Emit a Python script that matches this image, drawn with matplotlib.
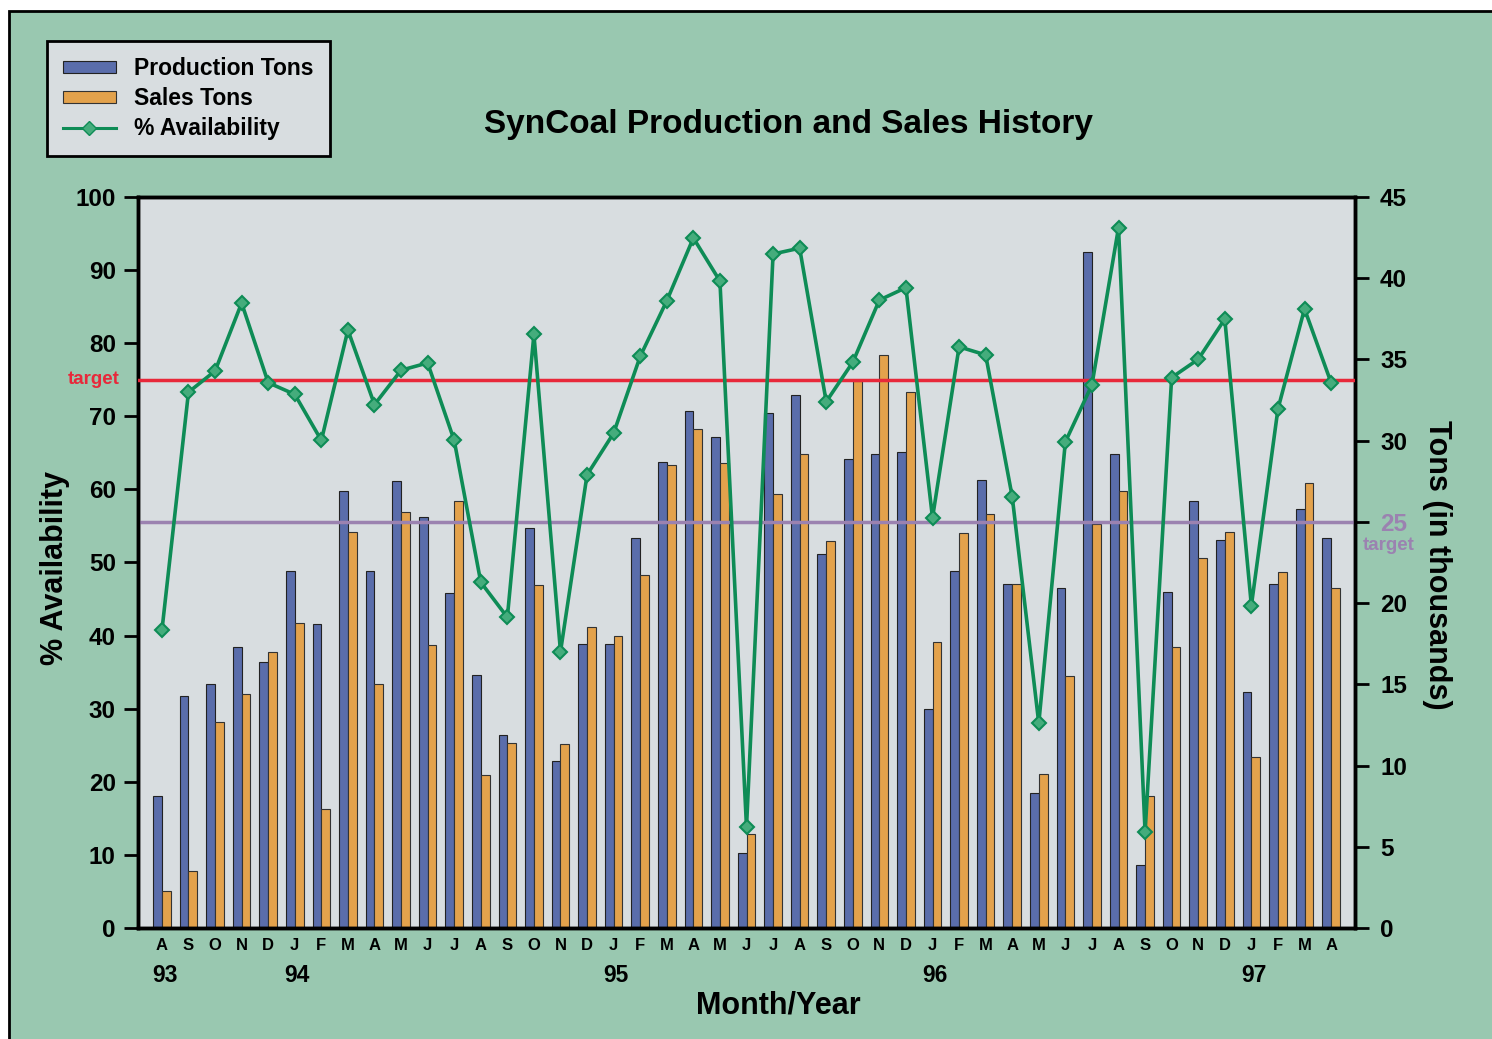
import matplotlib
matplotlib.use("Agg")
import matplotlib.pyplot as plt
from matplotlib.patches import Rectangle, Patch
from matplotlib.lines import Line2D
import matplotlib.transforms as mtransforms
import numpy as np

plt.rcParams['font.family'] = ['Liberation Sans', 'DejaVu Sans']

months = ['A', 'S', 'O', 'N', 'D',
          'J', 'F', 'M', 'A', 'M', 'J', 'J', 'A', 'S', 'O', 'N', 'D',
          'J', 'F', 'M', 'A', 'M', 'J', 'J', 'A', 'S', 'O', 'N', 'D',
          'J', 'F', 'M', 'A', 'M', 'J', 'J', 'A', 'S', 'O', 'N', 'D',
          'J', 'F', 'M', 'A']
years = ['93', '94', '95', '96', '97']
year_pos = [0, 5, 17, 29, 41]

availability = [40.7, 73.3, 76.2, 85.5, 74.6, 73.0, 66.7, 81.8, 71.6, 76.3, 77.3, 66.7, 47.3, 42.5,
                81.2, 37.8, 62.0, 67.7, 78.2, 85.8, 94.4, 88.5, 13.8, 92.2, 93.0, 72.0, 77.4, 85.9,
                87.6, 56.1, 79.5, 78.4,
                59.0, 28.0, 66.5, 74.3, 95.8, 13.1, 75.3, 77.8, 83.3, 44.1, 71.0, 84.7, 74.6]
production = [8.1, 14.3, 15.0, 17.3, 16.4, 22.0, 18.7, 26.9, 22.0, 27.5, 25.3, 20.6, 15.6, 11.9,
              24.6, 10.3, 17.5, 17.5, 24.0, 28.7, 31.8, 30.2, 4.6, 31.7, 32.8, 23.0, 28.9, 29.2,
              29.3, 13.5, 22.0, 27.6,
              21.2, 8.3, 20.9, 41.6, 29.2, 3.9, 20.7, 26.3, 23.9, 14.5, 21.2, 25.8, 24.0]
sales = [2.3, 3.5, 12.7, 14.4, 17.0, 18.8, 7.3, 24.4, 15.0, 25.6, 17.4, 26.3, 9.4, 11.4,
         21.1, 11.3, 18.5, 18.0, 21.7, 28.5, 30.7, 28.6, 5.8, 26.7, 29.2, 23.8, 33.7, 35.3,
         33.0, 17.6, 24.3, 25.5,
         21.2, 9.5, 15.5, 24.9, 26.9, 8.1, 17.3, 22.8, 24.4, 10.5, 21.9, 27.4, 20.9]
avail_target = 75
tons_target = 25

GREEN_BG = '#99C8B0'
AX_BG = '#D8DDE0'
BLUE = '#5A6DAB'
ORANGE = '#E3A24C'
LINE_GREEN = '#0E8C56'
MARK_GREEN = '#45AC7C'
RED = '#E8283A'
PURPLE = '#9B82B0'

W, H = 1492, 1039
fig = plt.figure(figsize=(W / 100, H / 100), dpi=100, facecolor='white')
fig.patches.append(Rectangle((9 / W, -0.02), 1.2, (H - 11) / H + 0.02, transform=fig.transFigure,
                             facecolor=GREEN_BG, edgecolor='black', lw=2, zorder=-10))

left, right, top, bottom = 138, 1355, 197, 928
ax2 = fig.add_axes([left / W, 1 - bottom / H, (right - left) / W, (bottom - top) / H])
ax = ax2.twinx()
ax.yaxis.tick_left()
ax.yaxis.set_label_position('left')
ax2.yaxis.tick_right()
ax2.yaxis.set_label_position('right')
ax.set_zorder(ax2.get_zorder() + 1)
ax.patch.set_visible(False)
ax2.set_facecolor(AX_BG)

x = np.arange(len(months))
w = 0.33
ax2.bar(x - w / 2, production, width=w, color=BLUE, edgecolor='#222222', linewidth=0.8, zorder=2)
ax2.bar(x + w / 2, sales, width=w, color=ORANGE, edgecolor='#333333', linewidth=0.8, zorder=2)
ax2.axhline(tons_target, color=PURPLE, lw=2.5, zorder=3)

ax.axhline(avail_target, color=RED, lw=2.5, zorder=3)
ax.plot(x, availability, color=LINE_GREEN, lw=2.6, marker='D', markersize=7,
        markerfacecolor=MARK_GREEN, markeredgecolor=LINE_GREEN, markeredgewidth=1.5, zorder=5)

ax.set_xlim(-0.9, len(months) - 1 + 0.9)
ax.set_ylim(0, 100)
ax2.set_ylim(0, 45)
ax.set_yticks(np.arange(0, 101, 10))
ax2.set_yticks(np.arange(0, 46, 5))
ax2.set_xticks(x)
ax2.set_xticklabels(months, fontsize=12, fontweight='bold')
ax.tick_params(axis='x', bottom=False, labelbottom=False, top=False)
ax2.tick_params(axis='x', length=0, pad=7)
ax.tick_params(axis='y', labelsize=17.5, width=2, length=10, pad=6)
ax2.tick_params(axis='y', labelsize=17.5, width=2, length=10, pad=8)
for lab in ax.get_yticklabels() + ax2.get_yticklabels():
    lab.set_fontweight('bold')
for lab, v in zip(ax2.get_yticklabels(), np.arange(0, 46, 5)):
    if v == tons_target:
        lab.set_color(PURPLE)

for a in (ax, ax2):
    for s in a.spines.values():
        s.set_linewidth(2.5)
        s.set_color('black')

trans = mtransforms.blended_transform_factory(ax2.transData, fig.transFigure)
for yl, xp in zip(years, year_pos):
    fig.text(xp + 0.1, 1 - 976 / H, yl, transform=trans, ha='center', va='center',
             fontsize=16.5, fontweight='bold')

fig.text(778 / W, 1 - 1006 / H, 'Month/Year', ha='center', va='center', fontsize=22, fontweight='bold')
fig.text(55 / W, 1 - 568 / H, '% Availability', ha='center', va='center', rotation=90,
         fontsize=22, fontweight='bold')
fig.text(1437 / W, 1 - 565 / H, 'Tons (in thousands)', ha='center', va='center', rotation=-90,
         fontsize=22, fontweight='bold')
fig.text(789 / W, 1 - 124 / H, 'SynCoal Production and Sales History', ha='center', va='center',
         fontsize=24, fontweight='bold')

ytr = mtransforms.blended_transform_factory(fig.transFigure, ax.transData)
fig.text(120 / W, avail_target, 'target', transform=ytr, ha='right', va='center',
         fontsize=13.5, fontweight='bold', color=RED)
fig.text(1389 / W, 1 - 545 / H, 'target', ha='center', va='center',
         fontsize=13.5, fontweight='bold', color=PURPLE)

handles = [Patch(facecolor=BLUE, edgecolor='#222222', lw=0.8, label='Production Tons'),
           Patch(facecolor=ORANGE, edgecolor='#333333', lw=0.8, label='Sales Tons'),
           Line2D([], [], color=LINE_GREEN, lw=2.2, marker='D', markersize=7,
                  markerfacecolor=MARK_GREEN, markeredgecolor=LINE_GREEN, label='% Availability')]
leg = fig.legend(handles=handles, loc='upper left', bbox_to_anchor=(47 / W, 1 - 41 / H),
                 frameon=True, fancybox=False, edgecolor='black', facecolor=AX_BG, framealpha=1,
                 prop={'weight': 'bold', 'size': 16.5}, handlelength=2.3, handleheight=0.45,
                 labelspacing=0.3, borderpad=0.7, handletextpad=0.8, borderaxespad=0)
leg.get_frame().set_linewidth(2)
leg._legend_box.align = 'left'

fig.savefig('out.png', dpi=100, facecolor=fig.get_facecolor())
